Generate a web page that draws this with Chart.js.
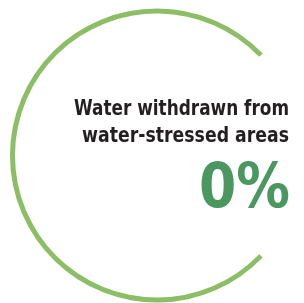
<!DOCTYPE html>
<html>
<head>
<meta charset="utf-8">
<script src="https://cdn.jsdelivr.net/npm/chart.js@4.4.1/dist/chart.umd.min.js"></script>
<style>
  html, body { margin: 0; padding: 0; background: #fff; }
  #wrap { position: relative; width: 304px; height: 303px; }
</style>
</head>
<body>
<div id="wrap"><canvas id="ring"></canvas></div>
<script>
// share of the ring that is drawn vs. the open gap on the right (degrees)
const segments = ['arc', 'gap'];
const segmentValues = [272, 88];
const titleLines = ['Water withdrawn from', 'water-stressed areas'];
const valueLabel = '0%';

const FONT = '"Liberation Sans Narrow", "DejaVu Sans Condensed", Arial, sans-serif';

// text block to the right of the ring (maxWidth squeezes it to the condensed look)
const labelPlugin = {
    id: 'ringLabel',
    afterDraw(chart) {
        const ctx = chart.ctx;
        ctx.save();
        ctx.textAlign = 'right';
        ctx.textBaseline = 'alphabetic';
        ctx.fillStyle = '#231f20';
        ctx.font = 'bold 21px ' + FONT;
        ctx.fillText(titleLines[0], 289, 115, 215);
        ctx.fillText(titleLines[1], 289, 142, 207);
        ctx.fillStyle = '#4a9860';
        ctx.font = 'bold 63px ' + FONT;
        ctx.fillText(valueLabel, 290, 207, 91);
        ctx.restore();
    }
};

new Chart(document.getElementById('ring'), {
    type: 'doughnut',
    data: {
        labels: segments,
        datasets: [{
            data: segmentValues,
            backgroundColor: ['#8cbf65', 'rgba(0,0,0,0)'],
            borderWidth: 0
        }]
    },
    options: {
        responsive: true,
        maintainAspectRatio: false,
        animation: false,
        rotation: 134,
        radius: 147,
        cutout: 142,
        layout: { padding: { left: 10, right: 0, top: 8, bottom: 0 } },
        plugins: { legend: { display: false }, tooltip: { enabled: false } }
    },
    plugins: [labelPlugin]
});
</script>
</body>
</html>
